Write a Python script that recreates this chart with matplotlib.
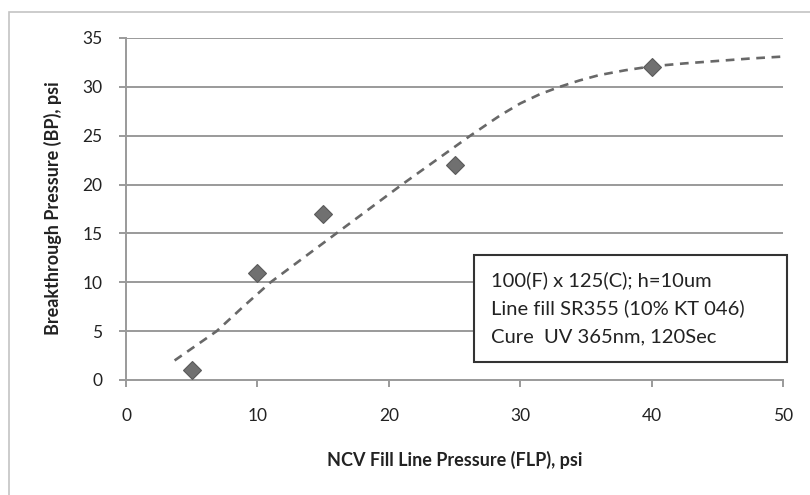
import matplotlib
matplotlib.use('Agg')
import matplotlib.pyplot as plt
from matplotlib.patches import Rectangle

plt.rcParams['font.family'] = ['Lato', 'DejaVu Sans']

# measured points
flp = [5, 10, 15, 25, 40]
bp = [1, 11, 17, 22, 32]

# dashed trend curve
trend_x = [3.7, 5.3, 6.9, 9.0, 11.0, 13.5, 16.0, 18.5, 21.0, 23.6, 26.2,
           27.4, 28.5, 30.0, 31.5, 33.0, 34.5, 36.0, 38.0, 40.0, 42.5, 45.0, 47.5, 50.0]
trend_y = [2.0, 3.5, 5.0, 7.6, 10.0, 12.5, 15.0, 17.5, 20.0, 22.5, 25.0,
           26.1, 27.1, 28.3, 29.25, 30.0, 30.65, 31.2, 31.7, 32.1, 32.4, 32.65, 32.9, 33.1]

xticks = [0, 10, 20, 30, 40, 50]
yticks = [0, 5, 10, 15, 20, 25, 30, 35]

note_lines = ['100(F) x 125(C); h=10um',
              'Line fill SR355 (10% KT 046)',
              'Cure  UV 365nm, 120Sec']

fig = plt.figure(figsize=(8.1, 4.95), dpi=100)
fig.patches.append(Rectangle((9 / 810, -0.2), 1.2, 1.2 - 12 / 495,
                             transform=fig.transFigure, fill=False,
                             edgecolor='#c4c4c4', linewidth=1.2))
ax = fig.add_axes([126 / 810, 1 - 380 / 495, 657 / 810, 342 / 495])

ax.set_xlim(0, 50)
ax.set_ylim(0, 35)
ax.set_xticks(xticks)
ax.set_yticks(yticks)
for y in yticks[1:]:
    ax.axhline(y, color='#9a9a9a', linewidth=1.4, zorder=1)

for s in ['top', 'right']:
    ax.spines[s].set_visible(False)
for s in ['left', 'bottom']:
    ax.spines[s].set_color('#9a9a9a')
    ax.spines[s].set_linewidth(1.4)

ax.tick_params(axis='both', colors='#9a9a9a', width=1.4, length=5,
               labelcolor='#222222', labelsize=12.5)
ax.tick_params(axis='x', pad=15)
ax.tick_params(axis='y', pad=12)

ax.plot(trend_x, trend_y, color='#686868', linewidth=1.9,
        dashes=(3.3, 2.5), zorder=3, clip_on=False)
ax.plot(flp, bp, linestyle='none', marker='D', markersize=9,
        markerfacecolor='#707070', markeredgecolor='#5a5a5a',
        markeredgewidth=0.8, zorder=4, clip_on=False)

ax.add_patch(Rectangle((26.5, 1.84), 23.8, 10.96, facecolor='white',
                       edgecolor='#333333', linewidth=1.5, zorder=5,
                       clip_on=False))
for i, line in enumerate(note_lines):
    ax.text(27.8, 10.23 - i * 2.9, line, fontsize=14.5, color='#222222',
            va='center', ha='left', zorder=6)

ax.set_xlabel('NCV Fill Line Pressure (FLP), psi', fontsize=13,
              fontweight='bold', color='#222222')
ax.set_ylabel('Breakthrough Pressure (BP), psi', fontsize=13,
              fontweight='bold', color='#222222')
ax.xaxis.set_label_coords(0.5, -0.234)
ax.xaxis.label.set_va('center')
ax.yaxis.set_label_coords(-0.111, 0.503)
ax.yaxis.label.set_va('center')

fig.savefig('out.png', dpi=100)
